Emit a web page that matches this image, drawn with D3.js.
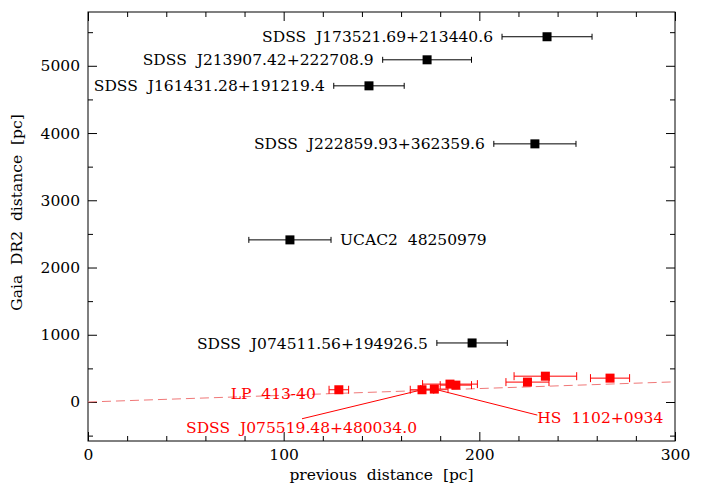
<!DOCTYPE html>
<meta charset="utf-8">
<html>
<head>
<title>Gaia DR2 vs previous distance</title>
<style>
body { margin: 0; background: #fff; }
svg { display: block; font-family: "DejaVu Serif", serif; }
.axis path { display: none; }
.axis line { stroke: #000; }
.axis text { font-family: "DejaVu Serif", serif; font-size: 15.5px; fill: #000; }
.lbl { font-size: 15.5px; word-spacing: 5px; }
</style>
</head>
<body>
<svg width="703" height="486"></svg>
<script src="https://d3js.org/d3.v7.min.js"></script>
<script>

// black points: Gaia DR2 far away
var farNames = ["SDSS J173521.69+213440.6", "SDSS J213907.42+222708.9", "SDSS J161431.28+191219.4",
                "SDSS J222859.93+362359.6", "UCAC2 48250979", "SDSS J074511.56+194926.5"];
var farPrev  = [234.6, 173.3, 143.6, 228.4, 103.2, 196.3];
var farErr   = [23, 22.7, 18, 21, 21, 18];
var farGaia  = [5432, 5089, 4702, 3839, 2411, 878];

// red points: agree with previous distance
var nearNames = ["LP 413-40", "SDSS J075519.48+480034.0", "HS 1102+0934", "", "", "", "", ""];
var nearPrev  = [128.2, 170.7, 177, 185, 188, 224.6, 233.75, 266.8];
var nearErr   = [5, 6, 7, 14, 8, 11, 16, 10];
var nearGaia  = [182, 182, 192, 266, 251, 296, 384, 355];

var xTicks = [0, 100, 200, 300];
var yTicks = [0, 1000, 2000, 3000, 4000, 5000];

var svg = d3.select("svg"),
    margin = {top: 12, right: 28, bottom: 45, left: 88},
    width = +svg.attr("width") - margin.left - margin.right,
    height = +svg.attr("height") - margin.top - margin.bottom,
    g = svg.append("g").attr("transform", "translate(" + margin.left + "," + margin.top + ")");

var x = d3.scaleLinear().domain([0, 300]).range([0, width]);
var y = d3.scaleLinear().domain([-580, 5800]).range([height, 0]);

var xMinor = d3.range(0, 301, 20).filter(function(v) { return v % 100; });
var yMinor = d3.range(-500, 5801, 500).filter(function(v) { return v % 1000; });

// ticks on all four sides, pointing inward
function ticks(axisFn, scale, vals, size, labels, tr) {
  var a = axisFn(scale).tickValues(vals).tickSizeInner(-size).tickSizeOuter(0).tickPadding(8);
  a.tickFormat(labels ? d3.format("d") : "");
  g.append("g").attr("class", "axis").attr("transform", tr || null).call(a);
}
ticks(d3.axisBottom, x, xTicks, 9, true, "translate(0," + height + ")");
ticks(d3.axisBottom, x, xMinor, 5, false, "translate(0," + height + ")");
ticks(d3.axisTop, x, xTicks, 9, false);
ticks(d3.axisTop, x, xMinor, 5, false);
ticks(d3.axisLeft, y, yTicks, 9, true);
ticks(d3.axisLeft, y, yMinor, 5, false);
ticks(d3.axisRight, y, yTicks, 9, false, "translate(" + width + ",0)");
ticks(d3.axisRight, y, yMinor, 5, false, "translate(" + width + ",0)");

g.append("rect").attr("width", width).attr("height", height)
  .attr("fill", "none").attr("stroke", "#000");

g.append("text").attr("class", "lbl")
  .attr("x", width / 2).attr("y", height + 39)
  .attr("text-anchor", "middle").text("previous distance [pc]");
g.append("text").attr("class", "lbl")
  .attr("transform", "translate(" + (-66) + "," + (height / 2 - 14) + ") rotate(-90)")
  .attr("text-anchor", "middle").text("Gaia DR2 distance [pc]");

// one-to-one line
g.append("line")
  .attr("x1", x(0)).attr("y1", y(0)).attr("x2", x(300)).attr("y2", y(300))
  .attr("stroke", "#f07878").attr("stroke-width", 1).attr("stroke-dasharray", "9,5");

function points(prev, err, gaia, color, ms, cap) {
  var d = prev.map(function(p, i) { return {p: p, e: err[i], g: gaia[i]}; });
  var s = g.append("g");
  s.selectAll(".eb").data(d).enter().append("line")
    .attr("x1", function(d) { return x(d.p - d.e); }).attr("x2", function(d) { return x(d.p + d.e); })
    .attr("y1", function(d) { return y(d.g); }).attr("y2", function(d) { return y(d.g); })
    .attr("stroke", color);
  [-1, 1].forEach(function(sgn) {
    s.selectAll(".cap" + sgn).data(d).enter().append("line")
      .attr("x1", function(d) { return x(d.p + sgn * d.e); }).attr("x2", function(d) { return x(d.p + sgn * d.e); })
      .attr("y1", function(d) { return y(d.g) - cap; }).attr("y2", function(d) { return y(d.g) + cap; })
      .attr("stroke", color);
  });
  s.selectAll("rect").data(d).enter().append("rect")
    .attr("x", function(d) { return x(d.p) - ms / 2; }).attr("y", function(d) { return y(d.g) - ms / 2; })
    .attr("width", ms).attr("height", ms).attr("fill", color);
}
points(farPrev, farErr, farGaia, "#000", 9, 3);
points(nearPrev, nearErr, nearGaia, "#ff0000", 9, 4);

// black labels: left of the error bar, except UCAC2 on the right
farNames.forEach(function(n, i) {
  var right = (i === 4);
  g.append("text").attr("class", "lbl")
    .attr("x", right ? x(farPrev[i] + farErr[i]) + 9 : x(farPrev[i] - farErr[i]) - 9)
    .attr("y", y(farGaia[i])).attr("dy", "0.36em")
    .attr("text-anchor", right ? "start" : "end")
    .text(n);
});

// red labels, offsets in px from the point; some with leader lines
var place = [
  {tx: -23, ty: 4, anchor: "end"},
  {tx: -5, ty: 38, anchor: "end", lx: -120, ly: 29},
  {tx: 103, ty: 28, anchor: "start", lx: 103, ly: 26}
];
place.forEach(function(pl, i) {
  var px = x(nearPrev[i]), py = y(nearGaia[i]);
  if (pl.lx !== undefined)
    g.append("line").attr("x1", px + pl.lx).attr("y1", py + pl.ly).attr("x2", px).attr("y2", py)
      .attr("stroke", "#ff0000");
  g.append("text").attr("class", "lbl").attr("fill", "#ff0000")
    .attr("x", px + pl.tx).attr("y", py + pl.ty).attr("dy", "0.36em")
    .attr("text-anchor", pl.anchor).text(nearNames[i]);
});

</script>
</body>
</html>
